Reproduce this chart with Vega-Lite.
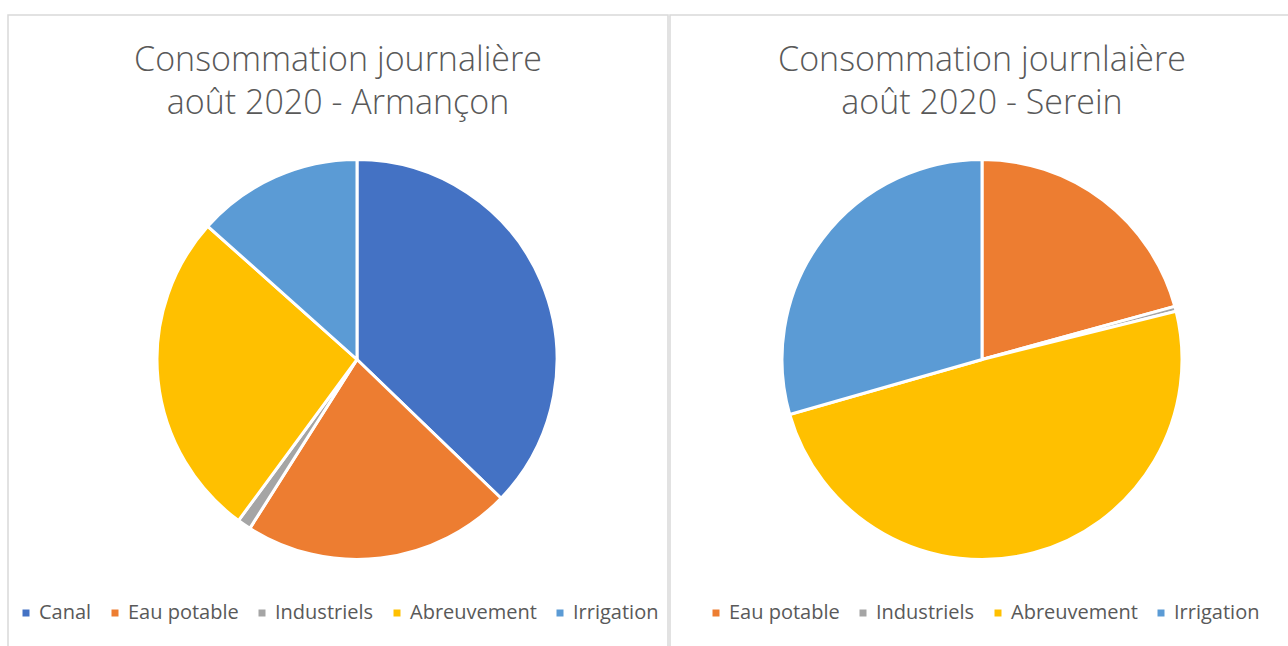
{
  "$schema": "https://vega.github.io/schema/vega-lite/v6.json",
  "background": "white",
  "padding": {"left": 7, "top": 14, "right": 0, "bottom": 0},
  "spacing": 0,
  "datasets": {
    "conso": [
      {"bassin": "Armançon", "usage": "Canal", "value": 37.2},
      {"bassin": "Armançon", "usage": "Eau potable", "value": 21.8},
      {"bassin": "Armançon", "usage": "Industriels", "value": 1.1},
      {"bassin": "Armançon", "usage": "Abreuvement", "value": 26.5},
      {"bassin": "Armançon", "usage": "Irrigation", "value": 13.4},
      {"bassin": "Serein", "usage": "Eau potable", "value": 20.7},
      {"bassin": "Serein", "usage": "Industriels", "value": 0.4},
      {"bassin": "Serein", "usage": "Abreuvement", "value": 49.4},
      {"bassin": "Serein", "usage": "Irrigation", "value": 29.4}
    ]
  },
  "resolve": {"scale": {"color": "independent", "theta": "independent"}, "legend": {"color": "independent"}},
  "hconcat": [
    {
      "width": 660,
      "height": 689,
      "view": {"stroke": "#d9d9d9", "strokeWidth": 1.5},
      "data": {"name": "conso"},
      "transform": [
        {"filter": "datum.bassin === 'Armançon'"},
        {"window": [{"op": "row_number", "as": "rang"}]}
      ],
      "title": {"text": ["Consommation journalière", "août 2020 - Armançon"], "offset": -106},
      "mark": {"type": "arc", "outerRadius": 200, "stroke": "white", "strokeWidth": 3, "x": {"expr": "concat_0_width / 2 + 19"}},
      "encoding": {
        "theta": {"field": "value", "type": "quantitative", "stack": true},
        "order": {"field": "rang", "type": "quantitative"},
        "color": {
          "field": "usage",
          "type": "nominal",
          "sort": ["Canal", "Eau potable", "Industriels", "Abreuvement", "Irrigation"],
          "scale": {"domain": ["Canal", "Eau potable", "Industriels", "Abreuvement", "Irrigation"], "range": ["#4472C4", "#ED7D31", "#A5A5A5", "#FFC000", "#5B9BD5"]},
          "legend": {"orient": "none", "direction": "horizontal", "legendX": 8, "legendY": 588, "title": null}
        }
      }
    },
    {
      "width": 624,
      "height": 689,
      "view": {"stroke": "#d9d9d9", "strokeWidth": 1.5},
      "data": {"name": "conso"},
      "transform": [
        {"filter": "datum.bassin === 'Serein'"},
        {"window": [{"op": "row_number", "as": "rang"}]}
      ],
      "title": {"text": ["Consommation journlaière", "août 2020 - Serein"], "offset": -106},
      "mark": {"type": "arc", "outerRadius": 200, "stroke": "white", "strokeWidth": 3},
      "encoding": {
        "theta": {"field": "value", "type": "quantitative", "stack": true},
        "order": {"field": "rang", "type": "quantitative"},
        "color": {
          "field": "usage",
          "type": "nominal",
          "sort": ["Eau potable", "Industriels", "Abreuvement", "Irrigation"],
          "scale": {"domain": ["Eau potable", "Industriels", "Abreuvement", "Irrigation"], "range": ["#ED7D31", "#A5A5A5", "#FFC000", "#5B9BD5"]},
          "legend": {"orient": "none", "direction": "horizontal", "legendX": 36, "legendY": 588, "title": null}
        }
      }
    }
  ],
  "config": {
    "font": "Open Sans",
    "title": {"font": "Open Sans", "fontSize": 34, "fontWeight": 300, "color": "#595959", "lineHeight": 43, "anchor": "middle", "frame": "group"},
    "legend": {"labelFont": "Open Sans", "labelFontSize": 20, "labelColor": "#595959", "symbolType": "square", "symbolSize": 49, "symbolStrokeWidth": 0, "labelOffset": 3, "columnPadding": 13, "labelLimit": 300}
  }
}
